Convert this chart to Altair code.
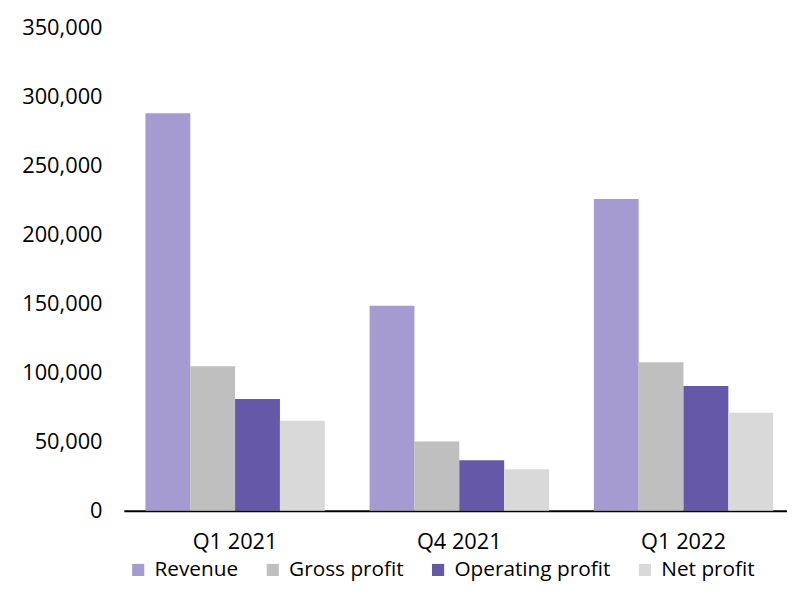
import altair as alt
import pandas as pd

quarters = ["Q1 2021", "Q4 2021", "Q1 2022"]
metrics = ["Revenue", "Gross profit", "Operating profit", "Net profit"]
revenue = [288000, 148500, 226000]
gross_profit = [104700, 50200, 107600]
operating_profit = [81000, 36600, 90400]
net_profit = [65300, 30100, 71000]
colors = ["#A59BD0", "#BFBFBF", "#6558A8", "#D9D9D9"]

rows = []
for i, q in enumerate(quarters):
    for m, vals in zip(metrics, [revenue, gross_profit, operating_profit, net_profit]):
        rows.append({"Quarter": q, "Metric": m, "Value": vals[i]})
df = pd.DataFrame(rows)

font = "Open Sans"
fs = 22

chart = alt.Chart(df).mark_bar().encode(
    x=alt.X("Quarter:N", sort=quarters, title=None,
            scale=alt.Scale(paddingInner=0.2, paddingOuter=0.079, align=0.61),
            axis=alt.Axis(labelAngle=0, ticks=False, domainColor="black", domainWidth=2,
                          labelFontSize=fs, labelColor="black", labelFont=font, labelPadding=21)),
    xOffset=alt.XOffset("Metric:N", sort=metrics, scale=alt.Scale(paddingInner=0, paddingOuter=0)),
    y=alt.Y("Value:Q", title=None,
            scale=alt.Scale(domain=[0, 350000], nice=False),
            axis=alt.Axis(values=[0, 50000, 100000, 150000, 200000, 250000, 300000, 350000],
                          format=",.0f", grid=False, domain=False, ticks=False,
                          labelFontSize=fs, labelColor="black", labelFont=font, labelPadding=22)),
    color=alt.Color("Metric:N", sort=metrics,
                    scale=alt.Scale(domain=metrics, range=colors),
                    legend=alt.Legend(title=None, orient="none", direction="horizontal",
                                      legendX=4, legendY=537,
                                      symbolType="square", symbolSize=150, symbolStrokeWidth=0,
                                      labelFontSize=21, labelColor="black", labelFont=font,
                                      labelLimit=400, columnPadding=24, labelOffset=6)),
).properties(
    width=670, height=488,
    autosize=alt.AutoSizeParams(type="none"),
    padding={"left": 117, "top": 17, "right": 0, "bottom": 72},
).configure_view(stroke=None)

chart.save("out.html", embed_options={"renderer": "svg", "actions": False})
